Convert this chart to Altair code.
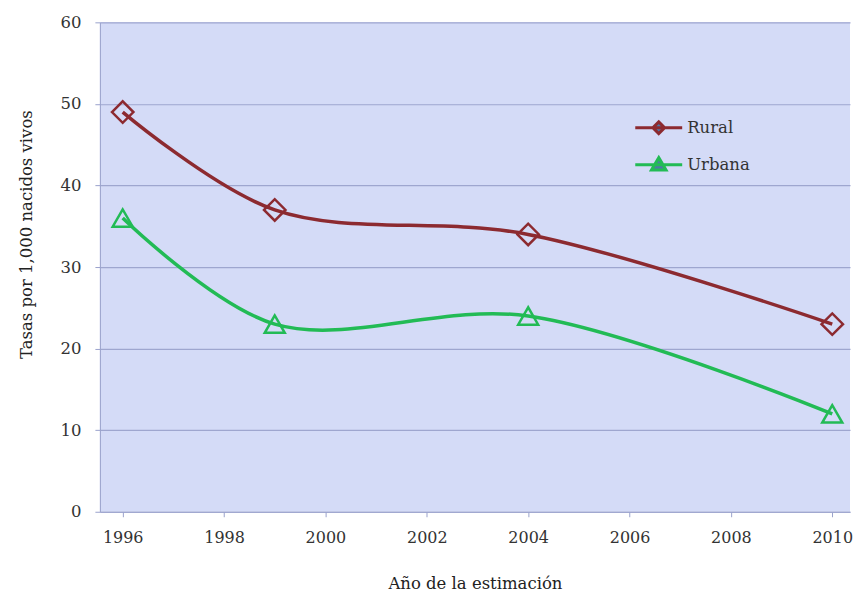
import altair as alt
import pandas as pd

years = [1996, 1999, 2004, 2010]
rural = [49, 37, 34, 23]
urbana = [36, 23, 24, 12]
series_names = ["Rural", "Urbana"]
series_colors = ["#8c2a30", "#22bb55"]
x_ticks = [1996, 1998, 2000, 2002, 2004, 2006, 2008, 2010]
y_ticks = [0, 10, 20, 30, 40, 50, 60]

rows = []
for y, v in zip(years, rural):
    rows.append({"year": y, "value": v, "serie": "Rural"})
for y, v in zip(years, urbana):
    rows.append({"year": y, "value": v, "serie": "Urbana"})
df = pd.DataFrame(rows)

FONT = "DejaVu Serif"

x_enc = alt.X("year:Q", scale=alt.Scale(domain=[1995.55, 2010.35], nice=False, zero=False),
              axis=alt.Axis(values=x_ticks, format="d", title="Año de la estimación",
                            grid=False, titleY=72, titleBaseline="middle",
                            labelFontSize=16))
y_enc = alt.Y("value:Q", scale=alt.Scale(domain=[0, 60], nice=False),
              axis=alt.Axis(values=y_ticks, title="Tasas por 1,000 nacidos vivos",
                            titleX=-73, titleY=212, titleBaseline="middle",
                            titleAngle=270, titleAlign="center"))
color_scale = alt.Scale(domain=series_names, range=series_colors)

legend_paths = [
    "M-2,0L2,0M0,-0.5L0.5,0L0,0.5L-0.5,0Z",
    "M-2,0L2,0M0,-0.6L0.62,0.45L-0.62,0.45Z",
]

LEG = alt.Legend(title=None, orient="none", legendX=546, legendY=92,
                 symbolSize=552, symbolStrokeWidth=3, labelFont=FONT,
                 labelFontSize=16.5, labelColor="#333", rowPadding=11,
                 labelOffset=15, padding=0)

base = alt.Chart(df)

lines = base.mark_line(interpolate="catmull-rom", strokeWidth=3.5).encode(
    x=x_enc, y=y_enc,
    color=alt.Color("serie:N", scale=color_scale, legend=LEG),
)

pts_rural = base.transform_filter(alt.datum.serie == "Rural").mark_point(
    shape="diamond", filled=False, size=460, strokeWidth=2.5, opacity=1,
    color=series_colors[0]
).encode(x=x_enc, y=y_enc)

pts_urb = base.transform_filter(alt.datum.serie == "Urbana").mark_point(
    shape="triangle-up", filled=False, size=400, strokeWidth=2.5, opacity=1,
    color=series_colors[1]
).encode(x=x_enc, y=y_enc)

# carries only the legend symbol shapes (no visible marks)
leg = base.transform_filter(alt.datum.value < 0).mark_point(
    filled=True, strokeWidth=3, opacity=1
).encode(
    x=x_enc, y=y_enc,
    shape=alt.Shape("serie:N", scale=alt.Scale(domain=series_names, range=legend_paths),
                    legend=LEG),
)

chart = alt.layer(lines, pts_rural, pts_urb, leg).properties(
    width=751, height=490,
    autosize=alt.AutoSizeParams(type="none"),
    padding={"left": 92, "top": 14, "right": 4, "bottom": 86},
).configure_view(
    fill="#d4dbf7", stroke=None
).configure_axis(
    labelFont=FONT, titleFont=FONT, labelFontSize=16.5, titleFontSize=16.5,
    labelColor="#333", titleColor="#222", titleFontWeight="normal",
    domainColor="#9aa2cc", tickColor="#9aa2cc", tickSize=5,
    gridColor="#9ea6cf", gridWidth=1.2, labelPadding=14,
).configure_axisX(labelPadding=13)

chart.save("out.html", embed_options={"renderer": "svg", "actions": False})
